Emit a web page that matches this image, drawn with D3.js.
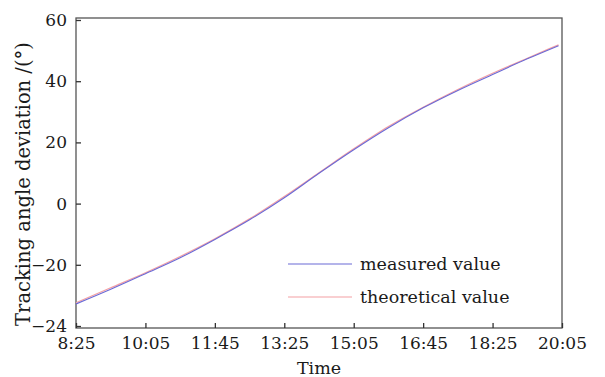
<!DOCTYPE html>
<html>
<head>
<meta charset="utf-8">
<script src="https://cdn.jsdelivr.net/npm/d3@7"></script>
<style>
  body { margin: 0; background: #fff; }
  svg text { font-family: "DejaVu Serif", serif; fill: #1a1a1a; }
</style>
</head>
<body>
<div id="chart"></div>
<script>
// time stamps and readings
const times = ["8:25", "9:15", "10:05", "10:55", "11:45", "12:35", "13:25", "14:15",
               "15:05", "15:55", "16:45", "17:35", "18:25", "19:15", "20:00"];
const theoretical = [-32.4, -27.5, -22.6, -17.3, -11.5, -5.0, 2.3, 10.1,
                     17.9, 25.2, 31.5, 37.3, 42.6, 47.5, 51.9];
const measured = [-32.8, -28.0, -22.9, -17.7, -11.7, -5.3, 1.9, 9.9,
                  17.6, 24.8, 31.3, 37.0, 42.2, 47.3, 51.6];
const xTickLabels = ["8:25", "10:05", "11:45", "13:25", "15:05", "16:45", "18:25", "20:05"];
const yTickValues = [-40, -20, 0, 20, 40, 60];
const yTickLabels = ["\u221224", "\u221220", "0", "20", "40", "60"];

const width = 605, height = 377;
const margin = { top: 18, right: 43, bottom: 49, left: 76 };

const toMin = s => { const p = s.split(":"); return +p[0] * 60 + +p[1]; };

const svg = d3.select("#chart").append("svg")
  .attr("width", width)
  .attr("height", height);

const x = d3.scaleLinear()
  .domain([toMin("8:25"), toMin("20:05")])
  .range([margin.left, width - margin.right]);

const y = d3.scaleLinear()
  .domain([-40, 60])
  .range([326, 20]);

const tickFont = 17;

// frame
svg.append("rect")
  .attr("x", margin.left)
  .attr("y", margin.top)
  .attr("width", width - margin.right - margin.left)
  .attr("height", height - margin.bottom - margin.top)
  .attr("fill", "none")
  .attr("stroke", "#555")
  .attr("stroke-width", 1.3);

// x axis
const xAxis = svg.append("g")
  .attr("transform", "translate(0," + (height - margin.bottom) + ")")
  .call(d3.axisBottom(x)
    .tickValues(xTickLabels.map(toMin))
    .tickFormat((d, i) => xTickLabels[i])
    .tickSizeInner(-5).tickSizeOuter(0).tickPadding(9));
xAxis.select(".domain").remove();
xAxis.selectAll("line").attr("stroke", "#333").attr("stroke-width", 1.3);
xAxis.selectAll("text").attr("font-size", tickFont).attr("font-family", "DejaVu Serif").attr("fill", "#1a1a1a");

// y axis
const yAxis = svg.append("g")
  .attr("transform", "translate(" + margin.left + ",0)")
  .call(d3.axisLeft(y)
    .tickValues(yTickValues)
    .tickFormat((d, i) => yTickLabels[i])
    .tickSizeInner(-5).tickSizeOuter(0).tickPadding(9));
yAxis.select(".domain").remove();
yAxis.selectAll("line").attr("stroke", "#333").attr("stroke-width", 1.3);
yAxis.selectAll("text").attr("font-size", tickFont).attr("font-family", "DejaVu Serif").attr("fill", "#1a1a1a");

// lines
const line = d3.line()
  .x((d, i) => x(toMin(times[i])))
  .y(d => y(d))
  .curve(d3.curveMonotoneX);

svg.append("path")
  .datum(theoretical)
  .attr("fill", "none")
  .attr("stroke", "#f4a0a4")
  .attr("stroke-width", 1.3)
  .attr("d", line);

svg.append("path")
  .datum(measured)
  .attr("fill", "none")
  .attr("stroke", "#6a6ad6")
  .attr("stroke-width", 1.1)
  .attr("d", line);

// legend
const legend = [
  { name: "measured value", color: "#6a6ad6" },
  { name: "theoretical value", color: "#f4a0a4" }
];
const lg = svg.append("g");
legend.forEach((d, i) => {
  const ly = 264 + i * 33;
  lg.append("line")
    .attr("x1", 288).attr("x2", 352)
    .attr("y1", ly).attr("y2", ly)
    .attr("stroke", d.color).attr("stroke-width", 1.2);
  lg.append("text")
    .attr("x", 360).attr("y", ly)
    .attr("dy", "0.35em")
    .attr("font-size", 17.5)
    .text(d.name);
});

// axis titles
svg.append("text")
  .attr("x", (margin.left + width - margin.right) / 2)
  .attr("y", 368)
  .attr("dy", "0.35em")
  .attr("text-anchor", "middle")
  .attr("font-size", 17.5)
  .text("Time");

svg.append("text")
  .attr("transform", "translate(23,184) rotate(-90)")
  .attr("dy", "0.35em")
  .attr("text-anchor", "middle")
  .attr("font-size", 19.5)
  .text("Tracking angle deviation /(\u00b0)");
</script>
</body>
</html>
